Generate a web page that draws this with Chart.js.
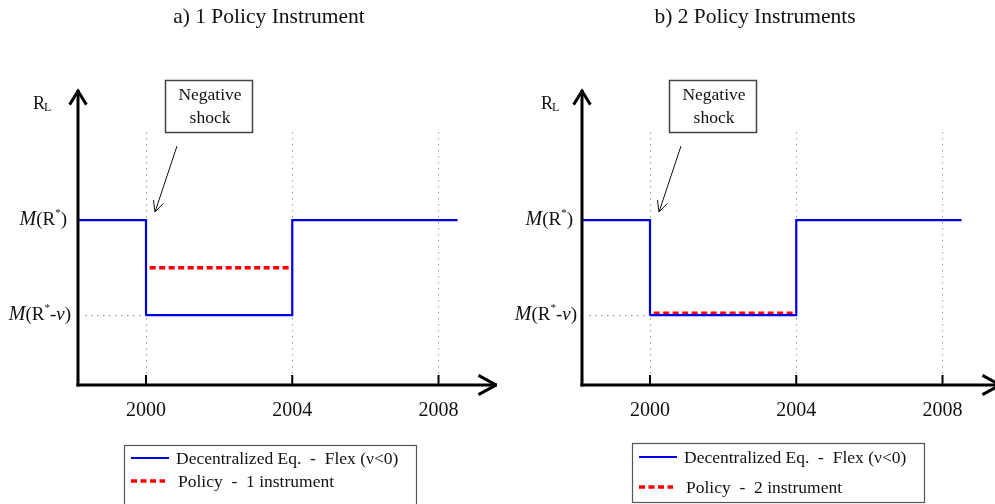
<!DOCTYPE html>
<html><head><meta charset="utf-8">
<script src="https://cdn.jsdelivr.net/npm/chart.js@4"></script>
<style>
html,body{margin:0;padding:0;background:#fff;overflow:hidden;width:995px;height:504px;}
.pan{position:absolute;top:0;width:497px;height:504px;}
</style></head>
<body>
<div class="pan" style="left:0"><canvas id="c1" width="497" height="504"></canvas></div>
<div class="pan" style="left:504px"><canvas id="c2" width="497" height="504"></canvas></div>
<script>
// ---- data ----
const tickYears = [2000, 2004, 2008];
const stepYears = [1998.14, 2000, 2004, 2008.52];
const decentralized = [2, 1, 2, 2];           // M(R*) = 2, M(R*-v) = 1
const policyYears = [2000.1, 2003.9];
const policy1 = [1.5, 1.5];
const policy2 = [1.02, 1.02];
const titles = ['a) 1 Policy Instrument', 'b) 2 Policy Instruments'];
const seriesLabels = ['Decentralized Eq.  -  Flex (\u03bd<0)', 'Policy  -  1 instrument', 'Policy  -  2 instrument'];
const yLevelHigh = 2, yLevelLow = 1;
const xRange = [1998.14, 2009.6];
const yRange = [0.263, 2.93];

const SERIF = '"Liberation Serif", "DejaVu Serif", serif';

function arrowHead(ctx, x1, y1, x2, y2, len, halfAngle) {
  const a = Math.atan2(y2 - y1, x2 - x1);
  ctx.beginPath();
  ctx.moveTo(x2 - len * Math.cos(a - halfAngle), y2 - len * Math.sin(a - halfAngle));
  ctx.lineTo(x2, y2);
  ctx.lineTo(x2 - len * Math.cos(a + halfAngle), y2 - len * Math.sin(a + halfAngle));
  ctx.stroke();
}

function makeChart(id, policyData, policyLabel, opt) {
  const deco = {
    id: 'deco' + id,
    afterDraw(chart) {
      const ctx = chart.ctx;
      const xs = chart.scales.x, ys = chart.scales.y;
      const x0 = xs.getPixelForValue(xs.min);
      const y0 = ys.getPixelForValue(ys.min);
      ctx.save();
      // title
      ctx.fillStyle = '#111';
      ctx.font = '21.5px ' + SERIF;
      ctx.textAlign = 'center';
      ctx.textBaseline = 'middle';
      ctx.fillText(opt.title, opt.titleX, 17);
      // small ticks on x-axis
      ctx.strokeStyle = '#000';
      ctx.lineWidth = 2;
      tickYears.forEach(t => {
        const px = xs.getPixelForValue(t);
        ctx.beginPath(); ctx.moveTo(px, y0 - 10); ctx.lineTo(px, y0); ctx.stroke();
      });
      // horizontal dotted guide at low level
      const yl = ys.getPixelForValue(yLevelLow);
      ctx.strokeStyle = '#888';
      ctx.lineWidth = 1;
      ctx.setLineDash([1.5, 4.5]);
      ctx.beginPath(); ctx.moveTo(x0 + 7, yl + 0.5); ctx.lineTo(xs.getPixelForValue(2000), yl + 0.5); ctx.stroke();
      ctx.setLineDash([]);
      // axes
      ctx.strokeStyle = '#000';
      ctx.lineWidth = 3;
      ctx.lineCap = 'butt';
      ctx.beginPath(); ctx.moveTo(x0, y0 + 1.5); ctx.lineTo(x0, 90); ctx.stroke();
      ctx.beginPath(); ctx.moveTo(x0 - 1.5, y0); ctx.lineTo(xs.getPixelForValue(xs.max), y0); ctx.stroke();
      ctx.lineJoin = 'miter';
      arrowHead(ctx, x0, 200, x0, 91, 16, 0.55);
      arrowHead(ctx, x0, y0, xs.getPixelForValue(xs.max) - 1, y0, 20, 0.5);
      // y labels
      ctx.fillStyle = '#111';
      ctx.textBaseline = 'middle';
      ctx.textAlign = 'left';
      ctx.font = '18px ' + SERIF;
      ctx.fillText('R', opt.rlX, 104);
      const rw = ctx.measureText('R').width;
      ctx.font = '12px ' + SERIF;
      ctx.fillText('L', opt.rlX + rw - 1, 108);
      function mLabel(yv, withV, right) {
        const py = ys.getPixelForValue(yv);
        const parts = [
          ['italic 20px ' + SERIF, 'M', 0],
          ['19px ' + SERIF, '(R', 0],
          ['11px ' + SERIF, '*', -7],
        ];
        if (withV) { parts.push(['19px ' + SERIF, '-', 0]); parts.push(['italic 19px ' + SERIF, 'v', 0]); }
        parts.push(['19px ' + SERIF, ')', 0]);
        let tw = 0;
        parts.forEach(p => { ctx.font = p[0]; tw += ctx.measureText(p[1]).width; });
        let x = right - tw;
        parts.forEach(p => { ctx.font = p[0]; ctx.fillText(p[1], x, py + p[2]); x += ctx.measureText(p[1]).width; });
      }
      mLabel(yLevelHigh, false, opt.mRight);
      mLabel(yLevelLow, true, opt.mRight + 4);
      // annotation box
      ctx.strokeStyle = '#444';
      ctx.lineWidth = 1.5;
      ctx.strokeRect(165.5, 80.5, 87, 52);
      ctx.fillStyle = '#111';
      ctx.textAlign = 'center';
      ctx.font = '17.5px ' + SERIF;
      ctx.fillText('Negative', 210, 95);
      ctx.fillText('shock', 210, 118);
      // shock arrow
      ctx.strokeStyle = '#111';
      ctx.lineWidth = 1;
      ctx.beginPath(); ctx.moveTo(177, 146); ctx.lineTo(155, 212); ctx.stroke();
      arrowHead(ctx, 177, 146, 155, 212, 12, 0.45);
      // legend
      const lg = opt.legend;
      ctx.strokeStyle = '#555';
      ctx.lineWidth = 1.2;
      ctx.strokeRect(lg.x + 0.5, lg.y + 0.5, lg.w, lg.h);
      chart.data.datasets.forEach((ds, i) => {
        const ly = lg.y + lg.rows[i];
        ctx.strokeStyle = ds.borderColor;
        ctx.lineWidth = ds.borderWidth;
        ctx.setLineDash(ds.borderDash || []);
        ctx.beginPath(); ctx.moveTo(lg.x + 7, ly); ctx.lineTo(lg.x + (i ? 41 : 45), ly); ctx.stroke();
        ctx.setLineDash([]);
        ctx.fillStyle = '#111';
        ctx.textAlign = 'left';
        ctx.font = '17.5px ' + SERIF;
        ctx.fillText(ds.label, lg.x + (i ? 54 : 52), ly + 1);
      });
      ctx.restore();
    }
  };
  return new Chart(document.getElementById(id), {
    type: 'line',
    data: {
      datasets: [
        { label: seriesLabels[0], data: stepYears.map((x, i) => ({ x, y: decentralized[i] })),
          borderColor: '#0000e6', borderWidth: 2.2, stepped: 'before', pointRadius: 0, fill: false },
        { label: policyLabel, data: policyYears.map((x, i) => ({ x, y: policyData[i] })),
          borderColor: '#ff0000', borderWidth: 3.5, borderDash: [6, 3.5], pointRadius: 0, fill: false }
      ]
    },
    options: {
      responsive: false, animation: false,
      layout: { padding: { left: 78, right: 0, top: 132, bottom: 79 } },
      plugins: { legend: { display: false }, tooltip: { enabled: false }, title: { display: false } },
      scales: {
        x: {
          type: 'linear', min: xRange[0], max: xRange[1],
          afterBuildTicks: s => { s.ticks = tickYears.map(v => ({ value: v })); },
          afterFit: s => { s.height = 40; },
          grid: { color: '#999', lineWidth: 1, drawTicks: false, drawOnChartArea: true },
          border: { display: false, dash: [1.5, 4.5] },
          ticks: { color: '#111', padding: 14, font: { family: SERIF, size: 20 }, callback: v => String(v) }
        },
        y: { display: false, min: yRange[0], max: yRange[1] }
      }
    },
    plugins: [deco]
  });
}

makeChart('c1', policy1, seriesLabels[1], {
  title: titles[0], titleX: 269, rlX: 33, mRight: 67,
  legend: { x: 124, y: 445, w: 292, h: 70, rows: [13, 36] }
});
makeChart('c2', policy2, seriesLabels[2], {
  title: titles[1], titleX: 251, rlX: 37, mRight: 69,
  legend: { x: 128, y: 443, w: 292, h: 59, rows: [14, 44] }
});
</script>
</body></html>
